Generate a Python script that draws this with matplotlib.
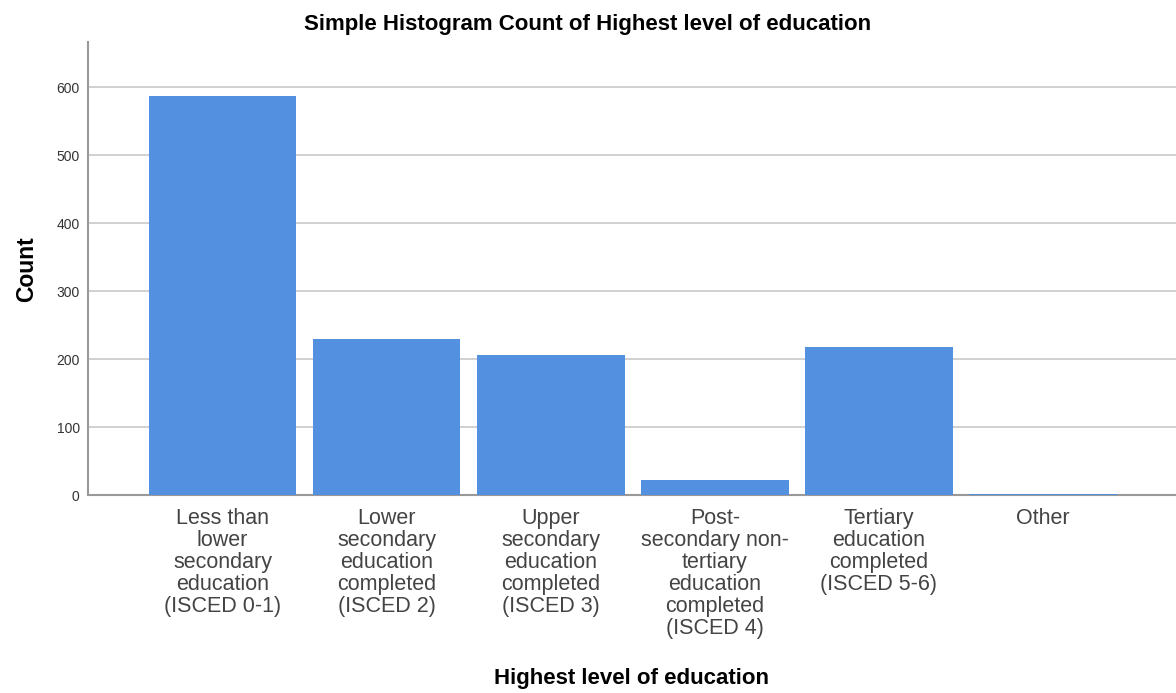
import numpy as np
import matplotlib
matplotlib.use("Agg")
import matplotlib.pyplot as plt

plt.rcParams['font.family'] = ['Liberation Sans', 'DejaVu Sans']

categories = [
    "Less than\nlower\nsecondary\neducation\n(ISCED 0-1)",
    "Lower\nsecondary\neducation\ncompleted\n(ISCED 2)",
    "Upper\nsecondary\neducation\ncompleted\n(ISCED 3)",
    "Post-\nsecondary non-\ntertiary\neducation\ncompleted\n(ISCED 4)",
    "Tertiary\neducation\ncompleted\n(ISCED 5-6)",
    "Other",
]
counts = [587, 229, 206, 22, 218, 2]
yticks = [0, 100, 200, 300, 400, 500, 600]

fig = plt.figure(figsize=(11.76, 6.93), dpi=100)
ax = fig.add_axes([0.0748, 0.2857, 0.9252, 0.653])

x = np.arange(len(categories))
ax.bar(x, counts, width=0.9, color='#5391e0', zorder=3)

ax.set_xlim(-0.82, 5.81)
ax.set_ylim(0, 666)
ax.set_yticks(yticks)
ax.set_xticks(x)
ax.set_xticklabels(categories, fontsize=15.5, color='#444444', linespacing=1.07, va='top')
ax.tick_params(axis='x', length=0, pad=9)
ax.tick_params(axis='y', length=0, pad=6, labelsize=10, labelcolor='#333333')
ax.grid(axis='y', color='#c8c8c8', linewidth=1.2, zorder=0)

for s in ['top', 'right']:
    ax.spines[s].set_visible(False)
for s in ['left', 'bottom']:
    ax.spines[s].set_color('#999999')
    ax.spines[s].set_linewidth(1.5)

fig.suptitle("Simple Histogram Count of Highest level of education",
             fontsize=16, fontweight='bold', x=0.5, y=0.98)
ax.set_ylabel("Count", fontsize=16.5, fontweight='bold', labelpad=13)
ax.set_xlabel("Highest level of education", fontsize=16, fontweight='bold', labelpad=20.5)

fig.savefig("out.png", dpi=100)
